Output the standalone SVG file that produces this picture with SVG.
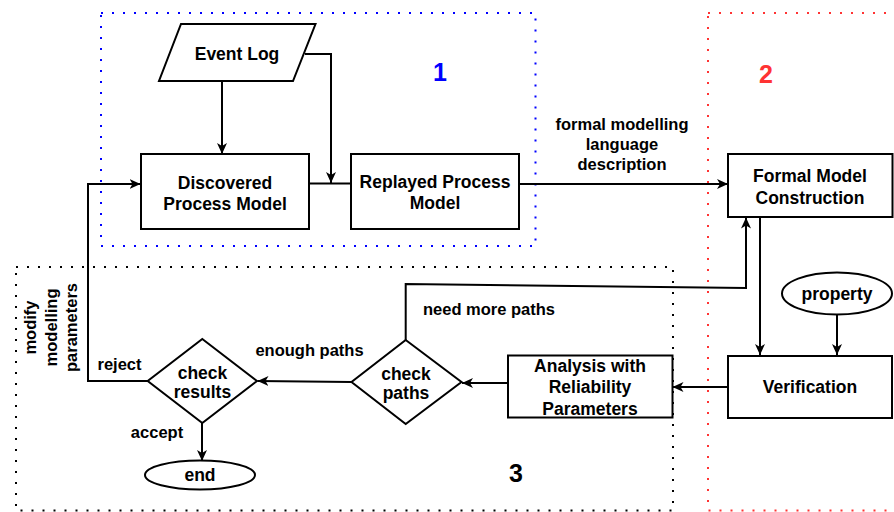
<svg xmlns="http://www.w3.org/2000/svg" width="894" height="512" viewBox="0 0 894 512">
<style>
text{font-family:"Liberation Sans",Arial,Helvetica,sans-serif;font-weight:bold;fill:#000}
.n{font-size:17.5px;text-anchor:middle}
.l{font-size:16.5px}
.c{text-anchor:middle}
.big{font-size:25px;text-anchor:middle}
.shape{fill:#fff;stroke:#000;stroke-width:2}
.edge{fill:none;stroke:#000;stroke-width:2}
.dot{fill:none;stroke-width:2;stroke-dasharray:2 9}
</style>
<defs>
<marker id="arr" viewBox="0 0 12 12" refX="11" refY="6" markerWidth="12" markerHeight="12" markerUnits="userSpaceOnUse" orient="auto">
<path d="M0,1 L11,6 L0,11 L3,6 z" fill="#000"/>
</marker>
</defs>
<g id="groups">
<rect class="dot" x="101" y="13" width="434.5" height="233" stroke="#0000FF"/>
<rect class="dot" x="708" y="13" width="220" height="497.5" stroke="#FF3333"/>
<rect class="dot" x="16" y="267" width="657" height="243.5" stroke="#000"/>
<text class="big" x="440" y="81" style="fill:#0000FF">1</text>
<text class="big" x="766" y="83" style="fill:#FF3333">2</text>
<text class="big" x="516" y="482">3</text>
</g>
<g id="connectors">
<path class="edge" d="M222 81 V154" marker-end="url(#arr)"/>
<path class="edge" d="M305 54 H331 V183" marker-end="url(#arr)"/>
<path class="edge" d="M309 183.5 H351"/>
<path class="edge" d="M519 184 H728" marker-end="url(#arr)"/>
<path class="edge" d="M760 217 V355" marker-end="url(#arr)"/>
<path class="edge" d="M837 314.5 V355" marker-end="url(#arr)"/>
<path class="edge" d="M728 387 H672.5" marker-end="url(#arr)"/>
<path class="edge" d="M508 383 H462" marker-end="url(#arr)"/>
<path class="edge" d="M351.5 382 L257.5 381" marker-end="url(#arr)"/>
<path class="edge" d="M405.7 340 V284 L746 288 V217.5" marker-end="url(#arr)"/>
<path class="edge" d="M202 423 V461" marker-end="url(#arr)"/>
<path class="edge" d="M148 381 H88 V184 H140.5" marker-end="url(#arr)"/>
<text class="l c" x="622" y="130">formal modelling</text>
<text class="l c" x="622" y="150">language</text>
<text class="l c" x="622" y="169.5">description</text>
<text class="l" x="423" y="314.5">need more paths</text>
<text class="l c" x="309.5" y="356">enough paths</text>
<text class="l" x="97.5" y="369.5">reject</text>
<text class="l c" x="157" y="437.5">accept</text>
<g class="l c">
<text class="l c" transform="translate(36,327.5) rotate(-90)">modify</text>
<text class="l c" transform="translate(56.5,327.5) rotate(-90)">modelling</text>
<text class="l c" transform="translate(77,327.5) rotate(-90)">parameters</text>
</g>
</g>
<g id="event-log">
<polygon class="shape" points="181,24 315.5,24 293,81 159,81"/>
<text class="n" x="237" y="59.5">Event Log</text>
</g>
<g id="discovered">
<rect class="shape" x="141" y="154" width="168" height="75"/>
<text class="n" x="225" y="189">Discovered</text>
<text class="n" x="225" y="210">Process Model</text>
</g>
<g id="replayed">
<rect class="shape" x="351" y="154" width="168" height="75"/>
<text class="n" x="435" y="187.5">Replayed Process</text>
<text class="n" x="435" y="208.5">Model</text>
</g>
<g id="formal">
<rect class="shape" x="728" y="154" width="164.5" height="63"/>
<text class="n" x="810" y="182">Formal Model</text>
<text class="n" x="810" y="204">Construction</text>
</g>
<g id="property">
<ellipse class="shape" cx="837" cy="293.5" rx="55" ry="21"/>
<text class="n" x="837" y="300">property</text>
</g>
<g id="verification">
<rect class="shape" x="728" y="356" width="164" height="62"/>
<text class="n" x="810" y="393">Verification</text>
</g>
<g id="analysis">
<rect class="shape" x="508" y="355.5" width="164.5" height="62"/>
<text class="n" x="590" y="372">Analysis with</text>
<text class="n" x="590" y="393">Reliability</text>
<text class="n" x="590" y="414.5">Parameters</text>
</g>
<g id="check-paths">
<polygon class="shape" points="405.7,340 461.5,382 405.7,424 351.5,382"/>
<text class="n" x="406" y="379.5">check</text>
<text class="n" x="406" y="398.5">paths</text>
</g>
<g id="check-results">
<polygon class="shape" points="202.3,339 257,381 202.3,423 147.7,381"/>
<text class="n" x="202.5" y="378.5">check</text>
<text class="n" x="202.5" y="398">results</text>
</g>
<g id="end">
<ellipse class="shape" cx="200" cy="475" rx="55" ry="14.5"/>
<text class="n" x="200" y="481">end</text>
</g>
</svg>
